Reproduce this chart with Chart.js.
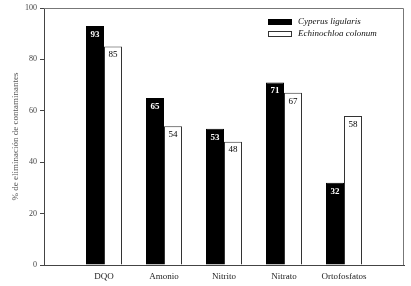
<!DOCTYPE html>
<html>
<head>
<meta charset="utf-8">
<script src="https://cdn.jsdelivr.net/npm/chart.js@4/dist/chart.umd.min.js"></script>
<style>
  html, body { margin: 0; padding: 0; background: #fff; }
  #wrap { width: 411px; height: 286px; position: relative; }
</style>
</head>
<body>
<div id="wrap"><canvas id="c"></canvas></div>
<script>
// Removal % per contaminant, two plant species
const categories = ['', 'DQO', 'Amonio', 'Nitrito', 'Nitrato', 'Ortofosfatos', ''];
const cyperus = [null, 93, 65, 53, 71, 32, null];
const echinochloa = [null, 85, 54, 48, 67, 58, null];
const seriesNames = ['Cyperus ligularis', 'Echinochloa colonum'];
const yTicks = [0, 20, 40, 60, 80, 100];

const FONT = '"Liberation Serif", "DejaVu Serif", serif';

// value labels just inside the top of each bar
const barValues = {
    id: 'barValues',
    afterDatasetsDraw(chart) {
        const ctx = chart.ctx;
        ctx.save();
        ctx.textAlign = 'center';
        ctx.textBaseline = 'top';
        chart.data.datasets.forEach((ds, i) => {
            chart.getDatasetMeta(i).data.forEach((bar, j) => {
                if (ds.data[j] === null) return;
                ctx.fillStyle = i === 0 ? '#fff' : '#000';
                ctx.font = (i === 0 ? 'bold ' : '') + '9px ' + FONT;
                ctx.fillText(ds.data[j], bar.x, bar.y + 4);
            });
        });
        ctx.restore();
    }
};

// top and right frame lines, plus the legend in the upper right corner
const frameAndLegend = {
    id: 'frameAndLegend',
    afterDraw(chart) {
        const ctx = chart.ctx;
        const a = chart.chartArea;
        ctx.save();
        ctx.strokeStyle = '#777';
        ctx.lineWidth = 1;
        ctx.beginPath();
        ctx.moveTo(a.left, a.top + 0.5);
        ctx.lineTo(a.right - 0.5, a.top + 0.5);
        ctx.lineTo(a.right - 0.5, a.bottom);
        ctx.stroke();

        const x0 = 268, y0 = 19;
        chart.data.datasets.forEach((ds, i) => {
            const y = y0 + i * 12;
            ctx.fillStyle = ds.backgroundColor;
            ctx.fillRect(x0, y, 24, 6);
            ctx.strokeStyle = i === 0 ? '#000' : '#333';
            ctx.strokeRect(x0 + 0.5, y + 0.5, 23, 5);
            ctx.fillStyle = '#111';
            ctx.font = 'italic 9px ' + FONT;
            ctx.textBaseline = 'middle';
            ctx.textAlign = 'left';
            ctx.fillText(ds.label, x0 + 30, y + 3);
        });
        ctx.restore();
    }
};

new Chart(document.getElementById('c'), {
    type: 'bar',
    data: {
        labels: categories,
        datasets: [
            {
                label: seriesNames[0],
                data: cyperus,
                backgroundColor: '#000',
                borderColor: '#000',
                borderWidth: 1
            },
            {
                label: seriesNames[1],
                data: echinochloa,
                backgroundColor: '#fff',
                borderColor: '#333',
                borderWidth: 1
            }
        ]
    },
    options: {
        responsive: true,
        maintainAspectRatio: false,
        animation: false,
        layout: { padding: { top: 8, right: 7, left: 0, bottom: 0 } },
        datasets: { bar: { categoryPercentage: 0.6, barPercentage: 1 } },
        plugins: { legend: { display: false }, tooltip: { enabled: false } },
        scales: {
            x: {
                offset: false,
                grid: { display: false, drawTicks: true, tickLength: 4, color: '#444' },
                border: { color: '#444' },
                ticks: {
                    color: '#222',
                    font: { family: FONT, size: 9 },
                    padding: 2,
                    maxRotation: 0,
                    autoSkip: false
                },
                afterFit(scale) { scale.height = 21; }
            },
            y: {
                min: 0,
                max: 100,
                afterBuildTicks(scale) { scale.ticks = yTicks.map(v => ({ value: v })); },
                grid: { drawOnChartArea: false, tickLength: 4, color: '#444' },
                border: { color: '#444' },
                ticks: {
                    color: '#444',
                    font: { family: FONT, size: 8 },
                    padding: 3
                },
                title: {
                    display: true,
                    text: '% de eliminación de contaminantes',
                    color: '#555',
                    font: { family: FONT, size: 9 },
                    padding: { top: 10, bottom: 0 }
                },
                afterFit(scale) { scale.width = 44; }
            }
        }
    },
    plugins: [barValues, frameAndLegend]
});
</script>
</body>
</html>
